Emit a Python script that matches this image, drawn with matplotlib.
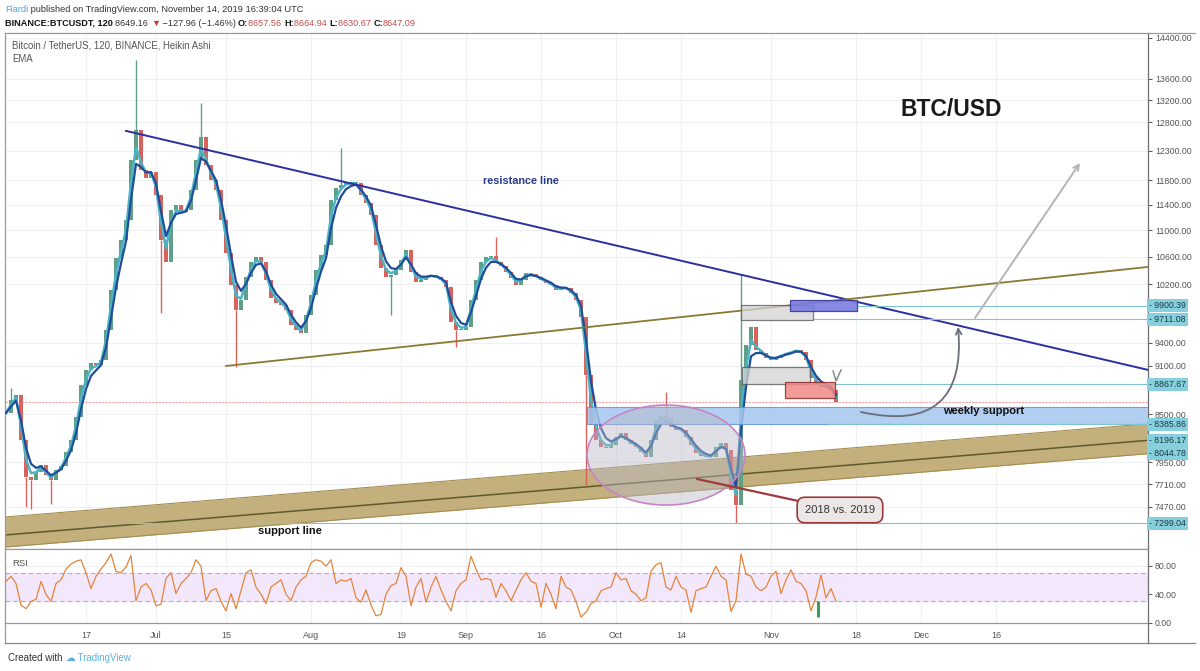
import numpy as np
import pandas as pd
import matplotlib
matplotlib.use('Agg')
import matplotlib.pyplot as plt
import matplotlib.transforms as mtrans
from matplotlib.patches import Rectangle, Ellipse
from matplotlib.lines import Line2D
from matplotlib.ticker import FixedLocator, FuncFormatter, NullLocator

plt.rcParams['font.family'] = ['Liberation Sans', 'DejaVu Sans']

BASE = pd.Timestamp('2019-06-01')

# daily heikin ashi closes, 1 Jun .. 14 Nov 2019
close = [8517, 8673, 8735, 8200, 7787, 7754, 7842, 7919, 7809, 7754,
         7864, 7908, 8064, 8200, 8469, 8858, 9046, 9135, 9110, 9173,
         9567, 10119, 10582, 10852, 11160, 12138, 12660, 11970, 11836, 11937,
         11558, 10852, 10523, 11319, 11398, 11287, 11319, 11640, 12138, 12536,
         12054, 11803, 11640, 11160, 10657, 10190, 9839, 9978, 10305, 10523,
         10597, 10523, 10261, 10006, 9936, 9909, 9839, 9634, 9567, 9527,
         9770, 10049, 10406, 10627, 10777, 11477, 11673, 11721, 11770, 11754,
         11754, 11558, 11429, 11239, 10777, 10436, 10305, 10334, 10406, 10552,
         10702, 10377, 10233, 10261, 10305, 10334, 10305, 10261, 10162, 9674,
         9567, 9567, 9608, 9978, 10261, 10523, 10597, 10612, 10523, 10465,
         10377, 10290, 10190, 10261, 10363, 10348, 10305, 10261, 10219, 10190,
         10119, 10134, 10148, 10077, 9978, 9743, 8983, 8375, 8200, 8121,
         8110, 8144, 8235, 8282, 8200, 8155, 8121, 8064, 8008, 8200,
         8433, 8481, 8457, 8351, 8316, 8316, 8235, 8144, 8053, 8019,
         8008, 8008, 8121, 8166, 8087, 7647, 7488, 8920, 9369, 9608,
         9304, 9265, 9199, 9173, 9199, 9238, 9265, 9278, 9304, 9278,
         9173, 8945, 8858, 8833, 8821, 8796, 8650]

# the long wicks that stick out of the candle band
wick_dates = ['2019-06-02', '2019-06-05', '2019-06-06', '2019-06-10', '2019-06-27',
              '2019-07-02', '2019-07-10', '2019-07-17', '2019-08-07', '2019-08-17',
              '2019-08-30', '2019-09-07', '2019-09-25', '2019-10-11', '2019-10-25',
              '2019-10-26']
wick_prices = [8820, 7470, 7448, 7500, 13964, 9800, 13150, 9085, 12345, 9770,
               9343, 10900, 7700, 8771, 7299, 10350]

# RSI(14), one reading per day
rsi = [58, 65, 55, 25, 20, 30, 33, 58, 40, 30,
       55, 60, 75, 82, 86, 88, 70, 48, 65, 75,
       84, 96, 72, 70, 78, 94, 31, 50, 55, 46,
       24, 26, 62, 70, 41, 55, 62, 70, 88, 79,
       31, 45, 48, 30, 17, 41, 20, 45, 70, 74,
       50, 40, 27, 50, 55, 60, 40, 31, 50, 60,
       65, 84, 88, 86, 79, 88, 55, 60, 58, 62,
       35, 29, 46, 25, 10, 12, 40, 52, 55, 77,
       65, 24, 50, 62, 29, 50, 65, 46, 30, 17,
       45, 55, 60, 93, 75, 60, 62, 60, 36, 55,
       45, 31, 46, 60, 70, 58, 55, 22, 55, 40,
       20, 65, 50, 46, 30, 8, 15, 27, 31, 45,
       48, 50, 70, 60, 62, 45, 40, 31, 35, 72,
       81, 84, 50, 46, 65, 50, 46, 15, 45, 48,
       50, 65, 79, 65, 60, 16, 31, 96, 68, 65,
       50, 45, 50, 65, 72, 41, 60, 74, 58, 55,
       45, 17, 36, 67, 35, 48, 30]

tick_dates = ['2019-06-17', '2019-07-01', '2019-07-15', '2019-08-01', '2019-08-19',
              '2019-09-01', '2019-09-16', '2019-10-01', '2019-10-14', '2019-11-01',
              '2019-11-18', '2019-12-01', '2019-12-16']
tick_labels = ['17', 'Jul', '15', 'Aug', '19', 'Sep', '16', 'Oct', '14', 'Nov',
               '18', 'Dec', '16']

price_ticks = [14400, 13600, 13200, 12800, 12300, 11800, 11400, 11000, 10600,
               10200, 9400, 9100, 8500, 7950, 7710, 7470]
level_labels = [9900.39, 9711.08, 8867.67, 8385.86, 8196.17, 8044.78, 7299.04]
last_price = 8649.16

GREEN = '#5f9f85'
RED = '#d9625c'
TEAL = '#86cfdc'
W, H = 1200, 671


def day(s):
    return (pd.Timestamp(s) - BASE) / pd.Timedelta(days=1)


def fx(px):
    return px / W


def fy(py):
    return 1 - py / H


fig = plt.figure(figsize=(W / 100, H / 100), dpi=100)
fig.patch.set_facecolor('white')
ax = fig.add_axes([fx(5), fy(549), fx(1148) - fx(5), fy(33) - fy(549)])
ax2 = fig.add_axes([fx(5), fy(623), fx(1148) - fx(5), fy(549) - fy(623)], sharex=ax)

x0, x1 = -0.2, 228.4
ax.set_xlim(x0, x1)
ax.set_yscale('log')
ax.set_ylim(7040, 14501)

# ---- axes styling
tick_days = [day(d) for d in tick_dates]
for a in (ax, ax2):
    a.set_xticks(tick_days)
    a.grid(True, color='#eef0f4', lw=0.8, zorder=0)
    a.set_axisbelow(True)
    for s in a.spines.values():
        s.set_color('#9a9a9a')
        s.set_linewidth(0.9)
    a.spines['right'].set_color('#6f6f6f')
    a.yaxis.tick_right()
    a.tick_params(axis='y', length=3, width=0.7, pad=2, labelsize=6.3,
                  colors='#555555')
ax.tick_params(axis='x', length=0, labelbottom=False)
ax2.set_xticklabels(tick_labels)
ax2.tick_params(axis='x', length=0, pad=6, labelsize=6.5, colors='#555555')

ax.yaxis.set_major_locator(FixedLocator(price_ticks))
ax.yaxis.set_minor_locator(NullLocator())
ax.yaxis.set_major_formatter(FuncFormatter(lambda v, p: f'{v:.2f}'))

# ---- support channel
band_x = [-1, 229]
band_top = [7359, 8392]
band_mid = [7176, 8200]
band_bot = [7056, 8048]
ax.fill_between(band_x, band_bot, band_top, color='#b9a266', alpha=0.85,
                lw=0, zorder=1)
ax.plot(band_x, band_top, color='#a58d50', lw=0.8, zorder=1)
ax.plot(band_x, band_bot, color='#a58d50', lw=0.8, zorder=1)
ax.plot(band_x, band_mid, color='#5e5a2c', lw=1.1, zorder=2)

# ---- candles
c = np.array(close, float)
days = np.arange(len(c))          # one candle per day from 1 Jun
o = np.r_[c[0], c[:-1]]
up = c >= o
lo = np.minimum(o, c)
hi = np.maximum(o, c)
cols = np.where(up, GREEN, RED)
ax.bar(days, np.maximum(hi - lo, 12), bottom=lo, width=0.7, color=cols,
       lw=0, zorder=3)
for d, p in zip(wick_dates, wick_prices):
    k = int(round(day(d)))
    ax.vlines(day(d), min(c[k], p), max(c[k], p), color=cols[k], lw=1.0,
              zorder=3)

ema_fast = pd.Series(c).ewm(span=2, adjust=False).mean()
ema_slow = pd.Series(c).ewm(span=3, adjust=False).mean()
ax.plot(days, ema_fast, color='#4cb3c2', lw=1.8, zorder=4)
ax.plot(days, ema_slow, color='#1f4d9c', lw=1.6, zorder=4)

# ---- trend lines
ax.plot([day('2019-06-25'), 229], [12643, 9038], color='#2b2fa0', lw=1.4,
        zorder=6)
ax.plot([day('2019-07-15'), 229], [9097, 10455], color='#8a7a32', lw=1.3,
        zorder=6)

# ---- last price line
ax.axhline(last_price, color='#f0a4a4', lw=0.8, ls=(0, (2, 1)), zorder=2)

# ---- weekly support box
ws_start = day('2019-09-25 05:00')
ax.add_patch(Rectangle((ws_start, 8386), x1 - ws_start + 1, 8589 - 8386,
                       fc='#a5c6ee', ec='#5f93d4', lw=0.8, alpha=0.85, zorder=5))

# ---- level lines
lvl_from = {9900.39: day('2019-11-18 05:00'), 9711.08: day('2019-11-09 08:00'),
            8867.67: day('2019-11-08 19:00'), 8385.86: day('2019-11-12 10:00')}
for v, s in lvl_from.items():
    ax.hlines(v, s, x1 + 1, color='#7fc4d0', lw=0.8, zorder=6)
ax.axhline(7299.04, color='#7fc4d0', lw=0.8, zorder=6)

# ---- boxes around the November range
ax.add_patch(Rectangle((day('2019-10-26'), 9701), 14.3, 9908 - 9701,
                       fc='#d4d4d4', ec='#555555', lw=0.9, alpha=0.75, zorder=6))
ax.add_patch(Rectangle((day('2019-10-26 07:00'), 8868), 13.5, 9084 - 8868,
                       fc='#d4d4d4', ec='#555555', lw=0.9, alpha=0.75, zorder=6))
ax.add_patch(Rectangle((day('2019-11-04 19:00'), 9826), 13.4, 9978 - 9826,
                       fc='#7a7be2', ec='#3a3a90', lw=0.9, alpha=0.9, zorder=7))
ax.add_patch(Rectangle((day('2019-11-03 19:00'), 8698), 10.0, 8895 - 8698,
                       fc='#f08a86', ec='#8a2a2a', lw=0.9, alpha=0.85, zorder=6))
# small "V" tick mark drawn over the last candles
ax.plot([day('2019-11-13 10:00'), day('2019-11-14'), day('2019-11-15')],
        [9033, 8908, 9046], color='#8a8a8a', lw=1.1, zorder=7)

# ---- ellipse over the October range
ecx, ecy = ax.transAxes.inverted().transform(
    ax.transData.transform((day('2019-10-11'), 8030)))
ax.add_patch(Ellipse((ecx, ecy), 31.6 / (x1 - x0), 100 / 516,
                     transform=ax.transAxes, fc=(0.72, 0.72, 0.78, 0.45),
                     ec='#c684c6', lw=1.2, zorder=6))

# ---- callout
ax.annotate('2018 vs. 2019', xy=(day('2019-10-17 05:00'), 7765),
            xytext=(day('2019-11-14 19:00'), 7435), ha='center', va='center',
            fontsize=8, color='#333333', zorder=9,
            bbox=dict(boxstyle='round,pad=0.7', fc='#ece6e6', ec='#9a3a3a', lw=1.2),
            arrowprops=dict(arrowstyle='-', color='#a03a3a', lw=1.6,
                            shrinkA=0, shrinkB=0))

# ---- projection arrows
ax.annotate('', xy=(day('2019-12-08 10:00'), 9608),
            xytext=(day('2019-11-19 00:00'), 8529),
            arrowprops=dict(arrowstyle='->', color='#6a6e78', lw=1.3,
                            connectionstyle='arc3,rad=0.68', shrinkA=0, shrinkB=0),
            zorder=8)
ax.annotate('', xy=(day('2020-01-01 19:00'), 12088),
            xytext=(day('2019-12-11 19:00'), 9729),
            arrowprops=dict(arrowstyle='->', color='#b4b4b4', lw=1.4,
                            shrinkA=0, shrinkB=0), zorder=8)

# ---- texts in the chart
ax.text(day('2019-12-07'), 13020, 'BTC/USD', fontsize=16.5, fontweight='bold',
        color='#1a1a1a', ha='center', va='center', zorder=9)
ax.text(day('2019-09-12'), 11787, 'resistance line', fontsize=7.8,
        fontweight='bold', color='#263c8a', ha='center', va='center', zorder=9)
ax.text(day('2019-12-13 12:00'), 8541, 'weekly support', fontsize=8,
        fontweight='bold', color='#111111', ha='center', va='center', zorder=9)
ax.text(day('2019-07-27 19:00'), 7220, 'support line', fontsize=8,
        fontweight='bold', color='#111111', ha='center', va='center', zorder=9)

# ---- level labels on the price scale
btr = mtrans.blended_transform_factory(ax.transAxes, ax.transData)
for v in level_labels:
    ax.text(1.001, v, f'- {v:.2f}', transform=btr, fontsize=6.3, color='#1f3a48',
            ha='left', va='center', clip_on=False, zorder=12,
            bbox=dict(boxstyle='square,pad=0.22', fc=TEAL, ec='none'))

# ---- RSI panel
ax2.set_ylim(0, 103)
ax2.yaxis.set_major_locator(FixedLocator([0, 40, 80]))
ax2.yaxis.set_major_formatter(FuncFormatter(lambda v, p: f'{v:.2f}'))
ax2.axhspan(30, 70, color='#f3e7fb', zorder=1)
ax2.axhline(70, color='#b9a9c4', lw=0.8, ls=(0, (4, 3)), zorder=2)
ax2.axhline(30, color='#b9a9c4', lw=0.8, ls=(0, (4, 3)), zorder=2)
ax2.plot(days, rsi, color='#e5843a', lw=0.9, zorder=3)
ax2.vlines(day('2019-11-10 10:00'), 8, 31, color='#3c9a5c', lw=2.2, zorder=4)

# ---- frame pieces below the RSI panel
for xa, ya, xb, yb, col in [(5, 623, 5, 643, '#9a9a9a'),
                            (5, 643, 1195, 643, '#8a8a8a'),
                            (1148, 623, 1148, 643, '#6f6f6f'),
                            (1148, 33, 1195, 33, '#9a9a9a')]:
    fig.add_artist(Line2D([fx(xa), fx(xb)], [fy(ya), fy(yb)], color=col, lw=0.9))

# ---- header / footer text
r = fig.canvas.get_renderer()


def put_row(pieces, x_px, y_px, size):
    x = x_px
    for txt, color, weight in pieces:
        t = fig.text(fx(x), fy(y_px), txt, color=color, fontweight=weight,
                     fontsize=size, ha='left', va='center')
        x += t.get_window_extent(renderer=r).width


put_row([('Fiardi', '#4fa3d1', 'normal'),
         (' published on TradingView.com, November 14, 2019 16:39:04 UTC',
          '#333333', 'normal')], 5, 9, 6.7)
put_row([('BINANCE:BTCUSDT, 120 ', '#111111', 'bold'),
         ('8649.16 ', '#333333', 'normal'), ('\u25bc', '#c0392b', 'normal'),
         (' \u2212127.96 (\u22121.46%) ', '#333333', 'normal'),
         ('O:', '#111111', 'bold'), ('8657.56 ', '#c0504d', 'normal'),
         ('H:', '#111111', 'bold'), ('8664.94 ', '#c0504d', 'normal'),
         ('L:', '#111111', 'bold'), ('8630.67 ', '#c0504d', 'normal'),
         ('C:', '#111111', 'bold'), ('8647.09', '#c0504d', 'normal')],
        5, 23, 6.6)
fig.text(fx(12), fy(45), 'Bitcoin / TetherUS, 120, BINANCE, Heikin Ashi',
         fontsize=6.9, color='#555555', va='center')
fig.text(fx(12), fy(59), 'EMA', fontsize=6.9, color='#555555', va='center')
fig.text(fx(12), fy(563), 'RSI', fontsize=6.8, color='#555555', va='center')
put_row([('Created with ', '#333333', 'normal'),
         ('\u2601', '#5ab4e0', 'normal'),
         (' TradingView', '#5ab4e0', 'normal')], 8, 658, 7.0)

fig.savefig('out.png', dpi=100, facecolor='white')
